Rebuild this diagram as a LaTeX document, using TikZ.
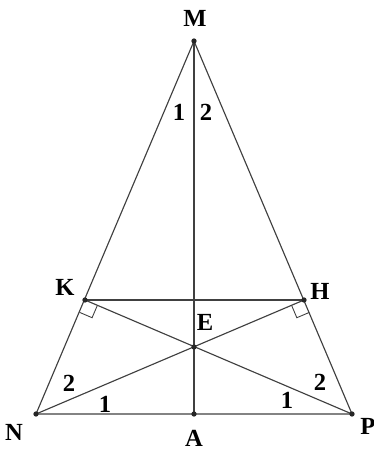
\documentclass[tikz,border=0pt]{standalone}
\usepackage{fontspec}
\setmainfont{Liberation Serif}
\usepackage{tikz}
\usetikzlibrary{calc}

\begin{document}
\begin{tikzpicture}[x=0.02cm,y=-0.02cm,
	seg/.style={draw=black!75,line width=0.65pt},
	dot/.style={circle,fill=black!85,inner sep=0pt,minimum size=3pt},
	lbl/.style={font=\fontsize{14}{16}\selectfont\bfseries,inner sep=0pt}]
\useasboundingbox (0,0) rectangle (374,450);
\foreach \n/\x/\y in {M/194/41,N/36/414,P/352/414,A/194/414,K/85/300,H/304/300,E/194/347}
	\coordinate (\n) at (\x,\y);
\draw[seg] (M)--(N)--(P)--cycle;
\draw[seg] (M)--(A);
\draw[seg] (K)--(H);
\draw[seg] (N)--(H);
\draw[seg] (P)--(K);
\foreach \c/\a/\b in {K/N/P,H/P/N}
	\draw[seg,line width=0.5pt] ($(\c)!0.27cm!(\a)$) -- ($(\c)!0.27cm!(\a)+(\c)!0.27cm!(\b)-(\c)$) -- ($(\c)!0.27cm!(\b)$);
\foreach \n in {M,N,P,A,K,H,E}\node[dot] (d\n) at (\n){};
\node[lbl] (lM) at (195,18) {M};
\node[lbl] (lK) at (65,287) {K};
\node[lbl] (lH) at (320,291) {H};
\node[lbl] (lE) at (205,322) {E};
\node[lbl] (lN) at (14,432) {N};
\node[lbl] (lA) at (194,438) {A};
\node[lbl] (lP) at (368,426) {P};
\node[lbl] (m1) at (179,112) {1};
\node[lbl] (m2) at (206,112) {2};
\node[lbl] (n2) at (69,383) {2};
\node[lbl] (n1) at (105,404) {1};
\node[lbl] (p1) at (287,400) {1};
\node[lbl] (p2) at (320,382) {2};
\end{tikzpicture}
\end{document}
